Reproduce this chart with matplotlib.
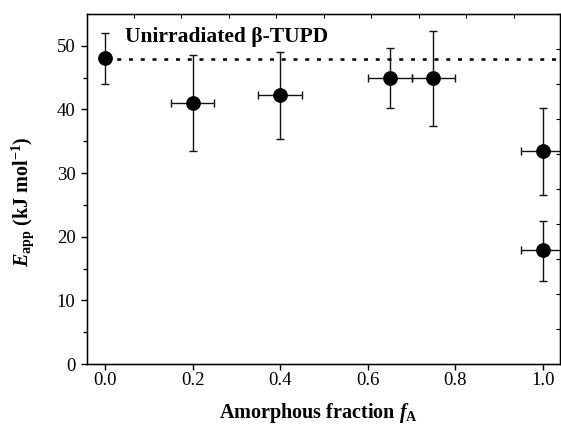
import numpy as np
import matplotlib
matplotlib.use("Agg")
import matplotlib.pyplot as plt

plt.rcParams['font.family'] = ['Liberation Serif', 'DejaVu Serif']
plt.rcParams['mathtext.fontset'] = 'custom'
plt.rcParams['mathtext.rm'] = 'Liberation Serif:bold'
plt.rcParams['mathtext.bf'] = 'Liberation Serif:bold'
plt.rcParams['mathtext.it'] = 'Liberation Serif:italic:bold'

# data
frac = [0.0, 0.2, 0.4, 0.65, 0.75, 1.0, 1.0]
e_app = [48.1, 41.0, 42.3, 45.0, 45.0, 33.5, 17.9]
err_lo = [4.1, 7.5, 7.0, 4.7, 7.6, 7.0, 4.9]
err_hi = [3.9, 7.6, 6.8, 4.6, 7.3, 6.8, 4.5]
frac_err = [0.0, 0.05, 0.05, 0.05, 0.05, 0.05, 0.05]
e_unirr = 48.0

fig = plt.figure(figsize=(5.61, 4.29), dpi=100)
ax = fig.add_axes([0.1542, 0.1515, 0.8440, 0.8159])

ax.errorbar(frac, e_app, yerr=[err_lo, err_hi], xerr=frac_err,
            fmt='o', color='black', ecolor='#111111', ms=9.6,
            elinewidth=1.0, capsize=3.2, capthick=1.0, zorder=3)

ax.plot([0.0, 1.1], [e_unirr, e_unirr], color='black', lw=1.8,
        dashes=[1.6, 3.1], zorder=2)

ax.text(0.045, 50.6, 'Unirradiated β-TUPD', fontsize=15.5,
        fontweight='bold', va='baseline', ha='left')

ax.set_xlim(-0.042, 1.039)
ax.set_ylim(0, 55)
ax.set_xticks(np.arange(0, 1.01, 0.2))
ax.set_xticklabels(['0.0', '0.2', '0.4', '0.6', '0.8', '1.0'])
ax.set_yticks(np.arange(0, 51, 10))
ax.set_yticks(np.arange(5, 55, 10), minor=True)

ax.tick_params(axis='both', which='major', labelsize=13.5, width=1.0,
               direction='out')
ax.tick_params(axis='y', which='major', length=4.5, pad=3.5)
ax.tick_params(axis='y', which='minor', length=3, width=1.0, direction='out')
ax.tick_params(axis='x', which='major', length=4.5, pad=1.5)
ax.tick_params(top=False, right=False)

ax.set_xlabel(r'Amorphous fraction $f_{\mathrm{A}}$', fontsize=14.5,
              fontweight='bold')
ax.xaxis.set_label_coords(0.49, -0.105)
ax.set_ylabel(r'$E_{\mathrm{app}}$ (kJ mol$^{\mathrm{-1}}$)', fontsize=14.5,
              fontweight='bold')
ax.yaxis.set_label_coords(-0.106, 0.465)

for s in ax.spines.values():
    s.set_linewidth(1.0)

# inward ticks on top and right edges
axt = ax.twiny()
axt.set_xlim(-1, 8.97)
axt.set_xticks(np.arange(0, 9, 1))
axt.tick_params(axis='x', direction='in', length=3, width=0.8,
                labeltop=False, top=True)
axr = ax.twinx()
axr.set_ylim(0, 10)
axr.set_yticks(np.arange(0, 11, 1))
axr.tick_params(axis='y', direction='in', length=3, width=0.8,
                labelright=False, right=True)

fig.savefig('out.png', dpi=100)
